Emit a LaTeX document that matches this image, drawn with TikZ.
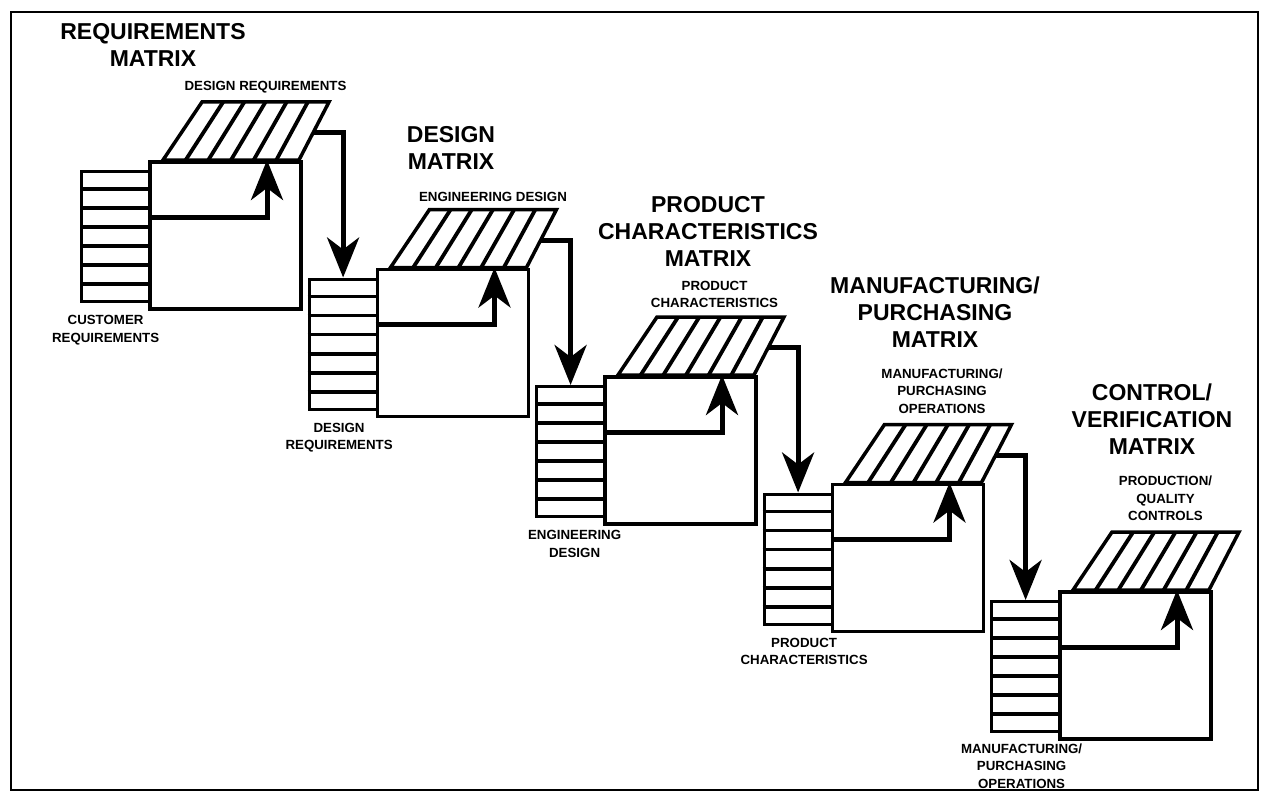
\documentclass[tikz,border=0pt]{standalone}
\usepackage{fontspec}
\setmainfont{Liberation Sans}
\usetikzlibrary{positioning,arrows.meta,calc}
\tikzset{
  node-stack/.style={draw,line width=3.2pt,minimum width=68pt,minimum height=130pt,
    inner sep=0pt,anchor=north west},
  node-matrix/.style={draw,line width=3.5pt,fill=white,minimum width=151pt,
    minimum height=147pt,inner sep=0pt,anchor=north west},
  node-title/.style={font=\fontsize{23}{27}\selectfont\bfseries,align=center,inner sep=0pt},
  node-label/.style={font=\fontsize{13.3}{17.5}\selectfont\bfseries,align=center,inner sep=0pt},
  roof/.style={line width=3.5pt,line join=miter},
  hatch/.style={line width=3.8pt},
  row/.style={line width=3.8pt},
  arrow-flow/.style={-{Stealth[length=40pt,width=32pt,inset=12pt]},line width=5pt},
  frame/.style={line width=2.5pt},
}
\begin{document}
\begin{tikzpicture}[x=1pt,y=-1pt]
  \useasboundingbox (0,0) rectangle (1263,797);
  \draw[frame] (11,12) rectangle (1258,790);
  % one unit per matrix: row stack, body, hatched roof
  \foreach \i in {1,...,5}{
    \pgfmathsetmacro{\sx}{80+227.5*(\i-1)}
    \pgfmathsetmacro{\sy}{170+107.5*(\i-1)}
    \coordinate (roof-bl\i) at (\sx+83,\sy-10);
    \coordinate (roof-br\i) at (\sx+219,\sy-10);
    \coordinate (roof-tr\i) at (\sx+249,\sy-68);
    \coordinate (roof-tl\i) at (\sx+122,\sy-68);
    \coordinate (roof-top\i) at ($(roof-tl\i)!0.5!(roof-tr\i)$);
    \coordinate (roof-out\i) at ($(roof-br\i)!0.47!(roof-tr\i)$);
    \draw[roof] (roof-bl\i) -- (roof-br\i) -- (roof-tr\i) -- (roof-tl\i) -- cycle;
    \foreach \k in {1,...,5}
      \draw[hatch] ($(roof-bl\i)!\k/6!(roof-br\i)$) -- ($(roof-tl\i)!\k/6!(roof-tr\i)$);
    \node[node-stack] (stack\i) at (\sx,\sy) {};
    \foreach \k in {1,...,6}
      \draw[row] ($(stack\i.north west)!\k/7!(stack\i.south west)$)
        -- ($(stack\i.north east)!\k/7!(stack\i.south east)$);
    \node[node-matrix] (box\i) at (\sx+68,\sy-10) {};
    \coordinate (in\i) at (\sx+68,\sy+47);
    \coordinate (up\i) at (\sx+187,\sy-10);
    \draw[arrow-flow] (in\i) -| (up\i);
  }
  % flow from one matrix to the next
  \foreach \i [evaluate=\i as \j using int(\i+1)] in {1,...,4}
    \draw[arrow-flow] (roof-out\i) -| (stack\j.north);

  \node[node-title,anchor=south] (title1) at (153,67) {REQUIREMENTS\\MATRIX};
  \node[node-title,anchor=south] (title2) at (451,170) {DESIGN\\MATRIX};
  \node[node-title,anchor=south] (title3) at (708,267) {PRODUCT\\CHARACTERISTICS\\MATRIX};
  \node[node-title,anchor=south] (title4) at (935,348) {MANUFACTURING/\\PURCHASING\\MATRIX};
  \node[node-title,anchor=south] (title5) at (1152,455) {CONTROL/\\VERIFICATION\\MATRIX};

  \node[node-label,above=9pt of roof-top1] (top1) {DESIGN REQUIREMENTS};
  \node[node-label,above=8pt of roof-top2] (top2) {ENGINEERING DESIGN};
  \node[node-label,above=9pt of roof-top3,xshift=-6pt] (top3) {PRODUCT\\CHARACTERISTICS};
  \node[node-label,above=11pt of roof-top4,xshift=-6pt] (top4) {MANUFACTURING/\\PURCHASING\\OPERATIONS};
  \node[node-label,above=11pt of roof-top5,xshift=-10pt] (top5) {PRODUCTION/\\QUALITY\\CONTROLS};

  \node[node-label,below=12pt of stack1.south,xshift=-10pt] (low1) {CUSTOMER\\REQUIREMENTS};
  \node[node-label,below=12pt of stack2.south,xshift=-4pt] (low2) {DESIGN\\REQUIREMENTS};
  \node[node-label,below=12pt of stack3.south,xshift=4pt] (low3) {ENGINEERING\\DESIGN};
  \node[node-label,below=12pt of stack4.south,xshift=6pt] (low4) {PRODUCT\\CHARACTERISTICS};
  \node[node-label,below=10pt of stack5.south,xshift=-4pt] (low5) {MANUFACTURING/\\PURCHASING\\OPERATIONS};
\end{tikzpicture}
\end{document}
